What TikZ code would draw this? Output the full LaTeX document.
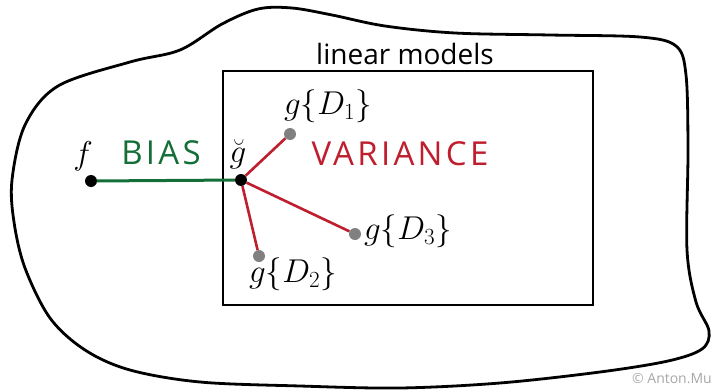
\RequirePackage{fix-cm}
\documentclass[tikz,border=0pt]{standalone}
\usepackage{fontspec}
\setsansfont{Open Sans}
\newfontfamily\capsfont[LetterSpace=10]{Open Sans}
\usepackage{xcolor}
\definecolor{BiasGreen}{RGB}{20,110,55}
\definecolor{VarRed}{RGB}{190,30,45}
\definecolor{DotGray}{RGB}{128,128,128}
\usepackage{tikz}
\usetikzlibrary{positioning}

\tikzset{
  dot/.style={circle, fill=black, minimum size=12pt, inner sep=0pt},
  sampledot/.style={circle, fill=DotGray, minimum size=12pt, inner sep=0pt},
  mathlabel/.style={inner sep=0pt, font=\fontsize{33}{33}\selectfont},
  captext/.style={inner sep=0pt, font=\capsfont\fontsize{33}{33}\selectfont, anchor=base},
  biasline/.style={BiasGreen, line width=3pt},
  varline/.style={VarRed, line width=2.6pt}
}

\begin{document}
\begin{tikzpicture}[x=1pt, y=-1pt]
\useasboundingbox (0,0) rectangle (713,391);
% Hypothesis space
\draw[line width=2.8pt] plot[smooth cycle, tension=0.55] coordinates {
  (12,180) (25,125) (58,86) (130,62) (180,50) (222,24) (258,9) (292,8)
  (332,15) (385,26) (455,33) (550,35) (640,37) (676,46) (686,75)
  (688,150) (687,250) (696,302) (709,331) (702,349) (668,361)
  (600,372) (500,383) (400,388) (300,386) (200,382) (130,370)
  (85,350) (50,318) (25,268) (14,222)};
% Linear models
\draw[line width=2.6pt] (223,71) rectangle (593,305);
\node[font=\sffamily\fontsize{28}{28}\selectfont, anchor=base, inner sep=0pt] (lintitle) at (405,64) {linear models};
% Points
\node[dot] (f) at (91,181) {};
\node[dot] (gbar) at (241,180) {};
\node[sampledot] (d1) at (290,134) {};
\node[sampledot] (d2) at (259,256) {};
\node[sampledot] (d3) at (355,234) {};
% Connectors
\draw[biasline] (f) -- (gbar);
\draw[varline] (gbar) -- (d1);
\draw[varline] (gbar) -- (d2);
\draw[varline] (gbar) -- (d3);
% Labels
\node[mathlabel] (flabel) at (83,156) {$f$};
\node[mathlabel] (gbarlabel) at (238,154) {$\breve{g}$};
\node[mathlabel] (d1label) at (328,106) {$g\{D_1\}$};
\node[mathlabel] (d2label) at (293,274) {$g\{D_2\}$};
\node[mathlabel] (d3label) at (408,231) {$g\{D_3\}$};
\node[captext, text=BiasGreen] (bias) at (161,164) {BIAS};
\node[captext, text=VarRed] (variance) at (400,165) {VARIANCE};
\node[font=\sffamily\fontsize{14}{14}\selectfont, text=black!35, anchor=base east, inner sep=0pt] (credit) at (712,383) {© Anton.Mu};
\end{tikzpicture}
\end{document}
